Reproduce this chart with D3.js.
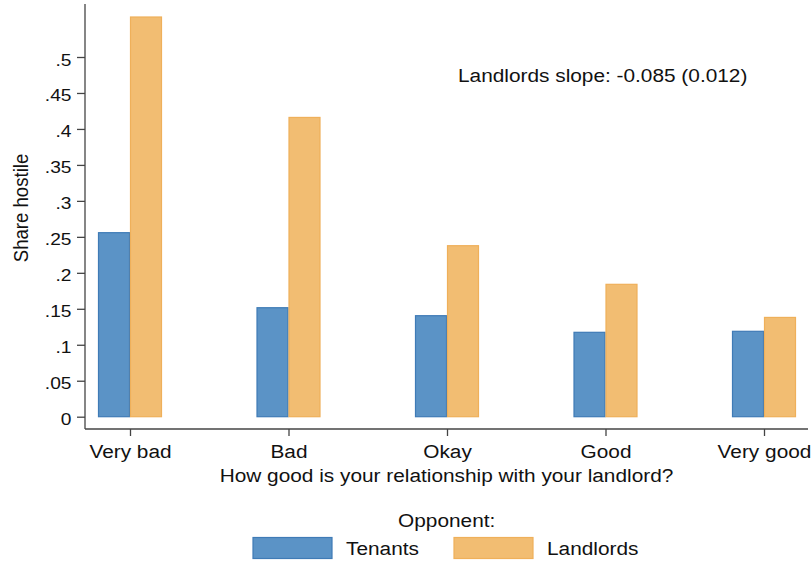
<!DOCTYPE html>
<html>
<head>
<meta charset="utf-8">
<script src="https://cdn.jsdelivr.net/npm/d3@7"></script>
<style>
  body { margin: 0; background: #fff; }
  text { font-family: "Liberation Sans", Arial, Helvetica, sans-serif; fill: #111; }
</style>
</head>
<body>
<div id="chart"></div>
<script>
const categories = ["Very bad", "Bad", "Okay", "Good", "Very good"];
const tenants = [0.2558, 0.1515, 0.1404, 0.1173, 0.1187];
const landlords = [0.5556, 0.416, 0.2377, 0.184, 0.138];
const yTicks = [0, 0.05, 0.1, 0.15, 0.2, 0.25, 0.3, 0.35, 0.4, 0.45, 0.5];
const seriesNames = ["Tenants", "Landlords"];
const annotation = "Landlords slope: -0.085 (0.012)";

const W = 812, H = 565;
const fills = { Tenants: "#5b93c6", Landlords: "#f2bd72" };
const strokes = { Tenants: "#3f7bb6", Landlords: "#efb05a" };
const FS = 18.6, SX = 1.12;   // text is a bit wide in the original

const svg = d3.select("#chart").append("svg")
  .attr("width", W).attr("height", H);

// wide text helper
function label(x, y, txt, anchor, size, sx) {
  return svg.append("text")
    .attr("transform", `translate(${x},${y}) scale(${sx || SX},1)`)
    .attr("text-anchor", anchor || "start")
    .style("font-size", (size || FS) + "px")
    .text(txt);
}

const x = d3.scalePoint().domain(categories).range([130, 764]);
const y = d3.scaleLinear().domain([0, 0.5]).range([416.7, 57]);
const barW = 32;

// axes lines
svg.append("line").attr("x1", 85).attr("x2", 85).attr("y1", 4).attr("y2", 429)
  .attr("stroke", "#444").attr("stroke-width", 1.3);
svg.append("line").attr("x1", 85).attr("x2", 808).attr("y1", 429).attr("y2", 429)
  .attr("stroke", "#444").attr("stroke-width", 1.3);

const yAxis = svg.append("g").attr("transform", "translate(85,0)")
  .call(d3.axisLeft(y).tickValues(yTicks).tickSize(8)
    .tickFormat(d => d === 0 ? "0" : d3.format(".2~f")(d).replace(/^0/, "")));
yAxis.select(".domain").remove();
yAxis.selectAll(".tick line").attr("stroke", "#444").attr("stroke-width", 1.3);
yAxis.selectAll("text")
  .attr("x", 0).attr("dy", "0.5em")
  .attr("transform", "translate(-13.5,0) scale(1.2,1)")
  .style("font-size", "16px").attr("fill", "#111");

const xAxis = svg.append("g").attr("transform", "translate(0,429)")
  .call(d3.axisBottom(x).tickSize(7));
xAxis.select(".domain").remove();
xAxis.selectAll(".tick line").attr("stroke", "#444").attr("stroke-width", 1.3);
xAxis.selectAll("text")
  .attr("y", 0).attr("dy", null)
  .attr("transform", `translate(0,29.3) scale(${SX},1)`)
  .style("font-size", FS + "px").attr("fill", "#111");

// bars
const rows = categories.map((c, i) => ({ cat: c, Tenants: tenants[i], Landlords: landlords[i] }));
seriesNames.forEach((s, si) => {
  svg.append("g").selectAll("rect").data(rows).join("rect")
    .attr("x", d => x(d.cat) - barW + si * barW + 0.5)
    .attr("y", d => y(d[s]))
    .attr("width", barW - 1)
    .attr("height", d => y(0) - y(d[s]))
    .attr("fill", fills[s])
    .attr("stroke", strokes[s])
    .attr("stroke-width", 1.2);
});

// annotation
label(458, 81.7, annotation);

// axis titles
svg.append("text").attr("transform", "translate(27.5,208) rotate(-90) scale(1,1.1)")
  .attr("text-anchor", "middle").style("font-size", FS + "px").text("Share hostile");
label(446.5, 481.7, "How good is your relationship with your landlord?", "middle");

// legend
label(446.7, 526.7, "Opponent:", "middle");
const legendX = [253, 454];
seriesNames.forEach((s, i) => {
  svg.append("rect").attr("x", legendX[i]).attr("y", 537.5).attr("width", 79).attr("height", 21)
    .attr("fill", fills[s]).attr("stroke", strokes[s]).attr("stroke-width", 1.2);
  label(legendX[i] + 93, 555, s);
});
</script>
</body>
</html>
